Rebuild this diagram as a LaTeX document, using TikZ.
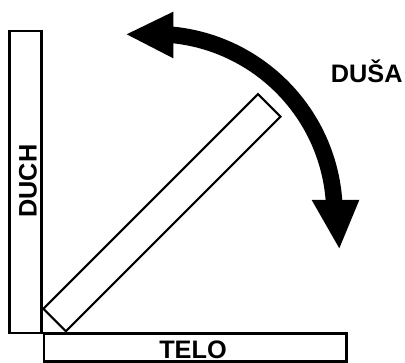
\documentclass[tikz,border=0pt]{standalone}
\usepackage{fontspec}
\setmainfont{Liberation Sans}
\begin{document}
\begin{tikzpicture}[x=1pt,y=1pt,
  box/.style={draw=black,line width=2.6pt},
  slab/.style={draw=black,line width=2.1pt},
  lbl/.style={font=\bfseries\fontsize{25.3}{29}\selectfont,inner sep=0pt,anchor=base},
  head/.style={fill=black,draw=none}]
\useasboundingbox (0,0) rectangle (405,363);
% boxes
\draw[box] (9.7,332) rectangle (41.3,30);
\draw[box] (43.8,29.7) rectangle (346.7,1.5);
\node[slab,rotate=45,minimum width=303.6pt,minimum height=31.8pt,inner sep=0pt] (soul) at (161.9,150.3) {};
% labels
\node[lbl,rotate=90] (duch) at (36.7,182) {DUCH};
\node[lbl] (telo) at (193,4.7) {TELO};
\node[lbl] (dusa) at (366.7,280.7) {DUŠA};
% curved double arrow
\coordinate (c) at (154.5,149);
\draw[line width=16.6pt] (c) ++(86:180) arc[start angle=86,end angle=2.5,radius=180];
\fill[head] (126.7,328.7) -- (173.3,351.3) -- (173.3,304.7) -- cycle;
\fill[head] (311.7,163) -- (359.3,163) -- (339.3,114.7) -- cycle;
\end{tikzpicture}
\end{document}
